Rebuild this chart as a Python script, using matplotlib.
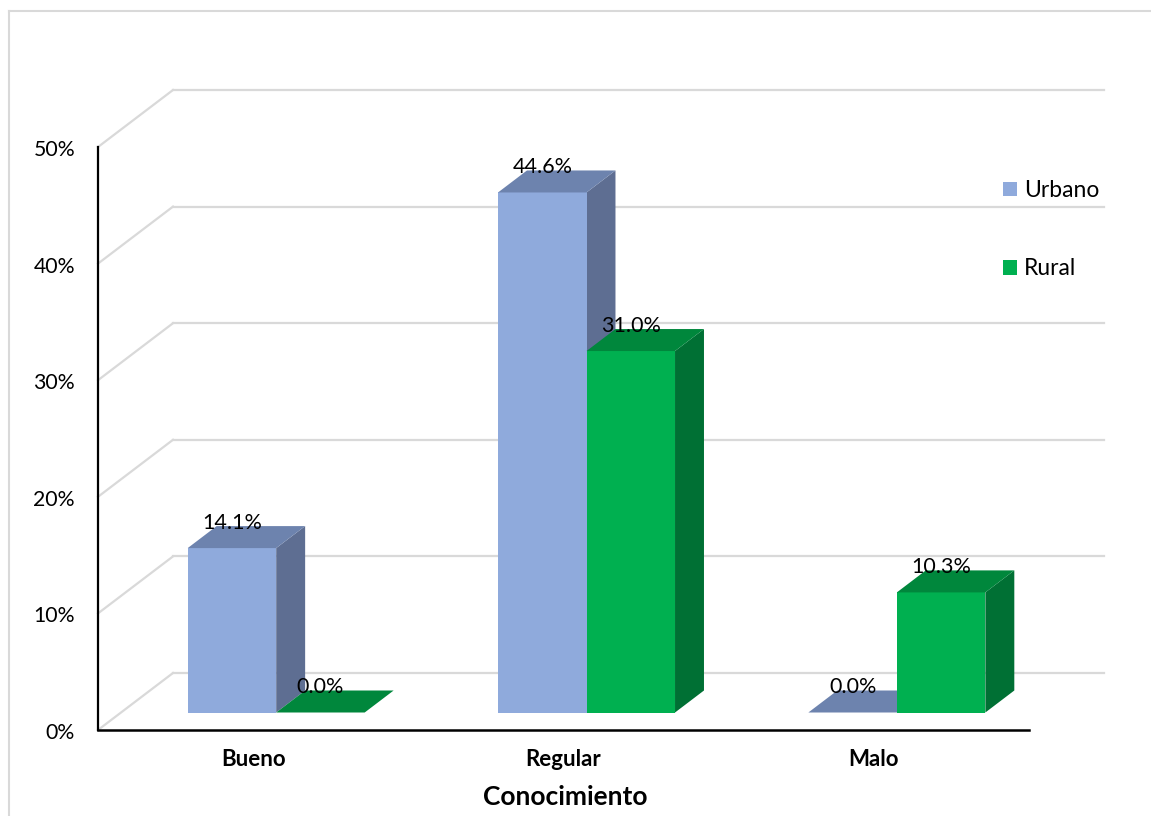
import matplotlib
matplotlib.use('Agg')
import matplotlib.pyplot as plt
from matplotlib.patches import Polygon, Patch
from matplotlib.lines import Line2D

# ---- data ----
categories = ['Bueno', 'Regular', 'Malo']
urbano = [14.1, 44.6, 0.0]
rural = [0.0, 31.0, 10.3]
series_names = ['Urbano', 'Rural']
yticks = [0, 10, 20, 30, 40, 50]
ytick_labels = ['0%', '10%', '20%', '30%', '40%', '50%']
xlabel = 'Conocimiento'

# ---- style ----
FONT = ['Lato', 'DejaVu Sans']
plt.rcParams['font.family'] = FONT
W, H = 1151, 816
fig = plt.figure(figsize=(W / 100, H / 100), dpi=100)
fig.patch.set_facecolor('white')

L, R, B, T = 98, 1029, 730, 147   # front plane in pixels
ax = fig.add_axes([L / W, 1 - B / H, (R - L) / W, (B - T) / H])
ax.set_xlim(0, 3)
ax.set_ylim(0, 50)
ax.axis('off')

px_x = 3 / (R - L)
px_y = 50 / (B - T)
DX = 75 * px_x
DY = 57 * px_y
D0, D1 = 0.307, 0.693
BW = 88.5 * px_x
GRID = '#D9D9D9'

def P(x, y, d):
    return (x + d * DX, y + d * DY)

# back wall gridlines and left wall diagonals
for t in yticks:
    ax.plot(*zip(P(0, t, 1), P(3, t, 1)), color=GRID, lw=1.6, clip_on=False, zorder=1)
    ax.plot(*zip(P(0, t, 0), P(0, t, 1)), color=GRID, lw=1.6, clip_on=False, zorder=1)

# front axis lines
ax.plot([0, 0], [0, 50], color='black', lw=1.6, clip_on=False, zorder=5)
ax.plot([0, 3], [0, 0], color='black', lw=1.8, clip_on=False, zorder=5)

cols = {
    'Urbano': dict(front='#8FAADC', side='#5E6E92', top='#6D83AE'),
    'Rural': dict(front='#00B050', side='#007034', top='#00873C'),
}

def draw_bar(x0, v, c, z):
    if v > 0:
        front = [P(x0, 0, D0), P(x0 + BW, 0, D0), P(x0 + BW, v, D0), P(x0, v, D0)]
        side = [P(x0 + BW, 0, D0), P(x0 + BW, 0, D1), P(x0 + BW, v, D1), P(x0 + BW, v, D0)]
        ax.add_patch(Polygon(side, closed=True, facecolor=c['side'], edgecolor='none', clip_on=False, zorder=z))
        ax.add_patch(Polygon(front, closed=True, facecolor=c['front'], edgecolor='none', clip_on=False, zorder=z))
    top = [P(x0, v, D0), P(x0 + BW, v, D0), P(x0 + BW, v, D1), P(x0, v, D1)]
    ax.add_patch(Polygon(top, closed=True, facecolor=c['top'], edgecolor='none', clip_on=False, zorder=z))
    ax.text(x0 + BW / 2 + D0 * DX, v + D1 * DY + 0.3, f'{v:.1f}%', ha='center', va='center',
            fontsize=15.5, color='black', zorder=10)

for i, cat in enumerate(categories):
    xc = i + 0.5
    draw_bar(xc - BW, urbano[i], cols['Urbano'], 3)
    draw_bar(xc, rural[i], cols['Rural'], 4)
    ax.text(xc, -30 * px_y, cat, ha='center', va='center', fontsize=16, fontweight='bold')

ax.text(1.5 + 2 * px_x, -67 * px_y, xlabel, ha='center', va='center', fontsize=19, fontweight='bold')

for t, lab in zip(yticks, ytick_labels):
    ax.text(-23 * px_x, t - 0.25, lab, ha='right', va='center', fontsize=15.3)

# legend
handles = [Patch(facecolor=cols[s]['front'], edgecolor='none') for s in series_names]
fig.legend(handles, series_names, loc='upper left', bbox_to_anchor=(1003 / W, 1 - 180 / H),
           frameon=False, fontsize=16.5, handlelength=0.62, handleheight=0.62,
           handletextpad=0.3, labelspacing=2.5, borderaxespad=0, borderpad=0)

# outer chart border
fig.add_artist(Line2D([9 / W, 9 / W], [0, 1 - 11 / H], color=GRID, lw=1.5))
fig.add_artist(Line2D([9 / W, 1], [1 - 11 / H, 1 - 11 / H], color=GRID, lw=1.5))

fig.savefig('out.png', dpi=100)
